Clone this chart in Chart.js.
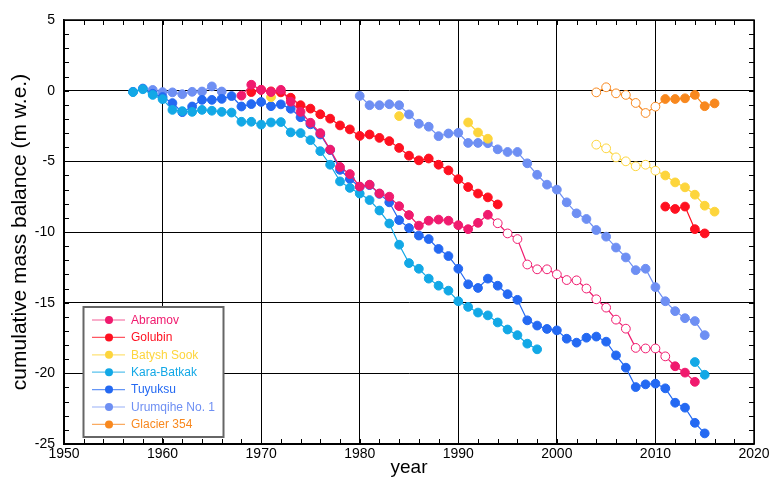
<!DOCTYPE html>
<html>
<head>
<meta charset="utf-8">
<script src="https://cdn.jsdelivr.net/npm/chart.js@4.4.0/dist/chart.umd.min.js"></script>
<style>
  html, body { margin: 0; padding: 0; background: #fff; }
</style>
</head>
<body>
<canvas id="chartMass" width="773" height="481"></canvas>
<script>
// values (m w.e.), one array per continuous run of years
const abramov = [-0.35, 0.42, 0.06, -0.1, 0.06, -0.78, -1.5, -2.27, -3.0, -4.17, -5.4, -5.9, -6.78, -6.65, -7.27, -7.5, -8.17, -8.8, -9.55, -9.2, -9.12, -9.2, -9.52, -9.8, -9.35, -8.78, -9.38, -10.1, -10.5, -12.3, -12.64, -12.64, -13.0, -13.4, -13.42, -14.0, -14.76, -15.35, -16.2, -16.84, -18.2, -18.24, -18.24, -18.8, -19.5, -19.95, -20.6]; // 1968-2014
const golubinA = [-0.1, 0.06, -0.05, -0.12, -0.5, -1.03, -1.27, -1.67, -1.98, -2.46, -2.74, -3.2, -3.1, -3.34, -3.57, -4.05, -4.6, -4.93, -4.8, -5.24, -5.64, -6.26, -6.82, -7.28, -7.55, -8.05]; // 1969-1994
const golubinB = [-8.2, -8.37, -8.2, -9.8, -10.1]; // 2011-2015
const batyshA = [-0.46]; // 1971
const batyshB = [-1.8]; // 1984
const batyshC = [-2.25, -2.96, -3.4]; // 1991-1993
const batyshD = [-3.82, -4.08, -4.72, -5.0, -5.35, -5.24, -5.66, -6.0, -6.49, -6.84, -7.36, -8.14, -8.56]; // 2004-2016
const karaA = [-0.1, 0.1, -0.3, -0.6, -1.36, -1.45, -1.5, -1.36, -1.42, -1.5, -1.55, -2.2, -2.2, -2.4, -2.25, -2.22, -2.95, -3.0, -3.5, -4.28, -5.24, -6.42, -6.88, -7.28, -7.74, -8.48, -9.4, -10.9, -12.2, -12.6, -13.3, -13.8, -14.15, -14.9, -15.3, -15.7, -15.9, -16.4, -16.9, -17.3, -17.9, -18.3]; // 1957-1998
const karaB = [-19.2, -20.1]; // 2014-2015
const tuyuksu = [-0.08, 0.15, -0.22, -0.45, -0.88, -1.52, -1.12, -0.65, -0.65, -0.58, -0.38, -1.12, -0.95, -0.8, -1.1, -0.97, -1.28, -1.88, -2.38, -3.1, -4.2, -5.6, -6.25, -6.8, -6.68, -7.3, -7.9, -9.16, -9.72, -10.25, -10.5, -11.2, -11.7, -12.6, -13.7, -13.96, -13.3, -13.8, -14.4, -14.8, -16.25, -16.62, -16.86, -16.96, -17.55, -17.83, -17.48, -17.4, -17.76, -18.73, -19.6, -20.97, -20.78, -20.73, -21.06, -22.08, -22.43, -23.5, -24.25]; // 1957-2015
const urumqiA = [0.05, -0.1, -0.12, -0.25, -0.08, -0.06, 0.3, -0.06]; // 1959-1966
const urumqiB = [-0.37, -1.03, -1.03, -0.96, -1.03, -1.68, -2.34, -2.55, -3.22, -3.03, -2.98, -3.7, -3.7, -3.72, -4.15, -4.34, -4.34, -5.14, -5.95, -6.65, -7.0, -7.9, -8.68, -9.08, -9.86, -10.33, -11.1, -11.8, -12.7, -12.6, -13.9, -14.9, -15.6, -16.1, -16.3, -17.3]; // 1980-2015
const glacier354 = [-0.12, 0.24, -0.19, -0.3, -0.87, -1.58, -1.13, -0.59, -0.59, -0.54, -0.3, -1.1, -0.9]; // 2004-2016

const xTicks = [1950, 1960, 1970, 1980, 1990, 2000, 2010, 2020];
const yTicks = [5, 0, -5, -10, -15, -20, -25];

// build {x,y} points; a null between runs breaks the line
function runs(list) {
    const out = [];
    list.forEach(([start, vals], i) => {
        if (i > 0) out.push({ x: start - 0.5, y: null });
        vals.forEach((v, j) => out.push({ x: start + j, y: v }));
    });
    return out;
}

const series = [
    { label: 'Abramov', color: '#f01a6e', data: runs([[1968, abramov]]), open: [1994, 2011] },
    { label: 'Golubin', color: '#ff1020', data: runs([[1969, golubinA], [2011, golubinB]]) },
    { label: 'Batysh Sook', color: '#fdd53c', data: runs([[1971, batyshA], [1984, batyshB], [1991, batyshC], [2004, batyshD]]), open: [2004, 2010] },
    { label: 'Kara-Batkak', color: '#12a8e6', data: runs([[1957, karaA], [2014, karaB]]) },
    { label: 'Tuyuksu', color: '#2469f2', data: runs([[1957, tuyuksu]]) },
    { label: 'Urumqihe No. 1', color: '#6e8ff3', data: runs([[1959, urumqiA], [1980, urumqiB]]) },
    { label: 'Glacier 354', color: '#f8881e', data: runs([[2004, glacier354]]), open: [2004, 2010] }
];

const FONT = "'Liberation Sans', Arial, sans-serif";

// frame, inner minor ticks and the boxed legend
const decorations = {
    id: 'decorations',
    afterDraw(chart) {
        const { ctx, chartArea: a, scales } = chart;
        ctx.save();
        ctx.strokeStyle = '#000';
        ctx.lineWidth = 1;
        ctx.beginPath();
        for (let yr = 1950; yr <= 2020; yr += 2) {
            const x = Math.round(scales.x.getPixelForValue(yr)) + 0.5;
            ctx.moveTo(x, a.bottom); ctx.lineTo(x, a.bottom - 5);
            ctx.moveTo(x, a.top); ctx.lineTo(x, a.top + 5);
        }
        for (let v = -25; v <= 5; v += 1) {
            const y = Math.round(scales.y.getPixelForValue(v)) + 0.5;
            ctx.moveTo(a.left, y); ctx.lineTo(a.left + 5, y);
            ctx.moveTo(a.right, y); ctx.lineTo(a.right - 5, y);
        }
        ctx.stroke();
        ctx.lineWidth = 1.5;
        ctx.strokeRect(a.left, a.top, a.right - a.left, a.bottom - a.top);

        // legend box
        const bx = 83.5, by = 307, bw = 140, bh = 130;
        ctx.fillStyle = '#fff';
        ctx.fillRect(bx, by, bw, bh);
        ctx.strokeStyle = '#666';
        ctx.lineWidth = 2;
        ctx.strokeRect(bx, by, bw, bh);
        ctx.font = '12px ' + FONT;
        ctx.textBaseline = 'middle';
        chart.data.datasets.forEach((ds, i) => {
            const y = 320 + i * 17.4;
            ctx.globalAlpha = 0.7;
            ctx.strokeStyle = ds.borderColor;
            ctx.lineWidth = 1.2;
            ctx.beginPath(); ctx.moveTo(92, y); ctx.lineTo(125, y); ctx.stroke();
            ctx.globalAlpha = 1;
            ctx.fillStyle = ds.borderColor;
            ctx.beginPath(); ctx.arc(109, y, 4, 0, Math.PI * 2); ctx.fill();
            ctx.fillText(ds.label, 131, y + 0.5);
        });
        ctx.restore();
    }
};

new Chart(document.getElementById('chartMass'), {
    type: 'line',
    data: {
        datasets: series.map(s => ({
            label: s.label,
            data: s.data,
            borderColor: s.color,
            borderWidth: 1.2,
            pointRadius: 4.4,
            pointBorderWidth: 1,
            pointBorderColor: s.color,
            pointBackgroundColor: ctx => {
                const p = ctx.raw;
                if (s.open && p && p.x >= s.open[0] && p.x <= s.open[1]) return '#fff';
                return s.color;
            },
            spanGaps: false,
            fill: false,
            tension: 0
        }))
    },
    options: {
        responsive: false,
        animation: false,
        events: [],
        layout: { padding: { top: 20, right: 19, left: 0, bottom: 0 } },
        plugins: { legend: { display: false }, tooltip: { enabled: false } },
        scales: {
            x: {
                type: 'linear',
                min: 1950,
                max: 2020,
                afterFit: s => { s.height = 37; },
                afterBuildTicks: s => { s.ticks = xTicks.map(v => ({ value: v })); },
                ticks: {
                    callback: v => String(v),
                    font: { family: FONT, size: 14 },
                    color: '#000',
                    padding: 2,
                    maxRotation: 0
                },
                grid: { color: '#000', lineWidth: 1, drawTicks: false },
                border: { display: true, color: '#000', width: 1.5 },
                title: {
                    display: true,
                    text: 'year',
                    font: { family: FONT, size: 19 },
                    color: '#000',
                    padding: { top: 0, bottom: 2 }
                }
            },
            y: {
                min: -25,
                max: 5,
                afterFit: s => { s.width = 64; },
                afterBuildTicks: s => { s.ticks = yTicks.map(v => ({ value: v })); },
                ticks: {
                    font: { family: FONT, size: 14 },
                    color: '#000',
                    padding: 9
                },
                grid: { color: '#000', lineWidth: 1, drawTicks: false },
                border: { display: true, color: '#000', width: 1.5 },
                title: {
                    display: true,
                    text: 'cumulative mass balance (m w.e.)',
                    font: { family: FONT, size: 21 },
                    color: '#000',
                    padding: { top: 8, bottom: 0 }
                }
            }
        }
    },
    plugins: [decorations]
});
</script>
</body>
</html>
